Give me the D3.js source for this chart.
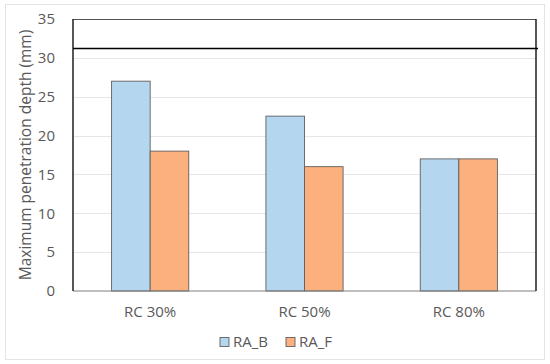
<!DOCTYPE html>
<html>
<head>
<meta charset="utf-8">
<script src="https://cdn.jsdelivr.net/npm/d3@7"></script>
<style>
  body { margin: 0; background: #fff; }
  text { font-family: "Open Sans", "Noto Sans", sans-serif; fill: #595959; }
</style>
</head>
<body>
<svg id="chart" width="550" height="364"></svg>
<script>
// chart data
var categories = ["RC 30%", "RC 50%", "RC 80%"];
var seriesNames = ["RA_B", "RA_F"];
var raB = [27, 22.5, 17];
var raF = [18, 16, 17];
var yTicks = [0, 5, 10, 15, 20, 25, 30, 35];
var limitValue = 31.2;

var colors = ["#b4d6ee", "#fcb07e"];

var svg = d3.select("#chart");
const width = +svg.attr("width"), height = +svg.attr("height");
const margin = {top: 19, right: 14, bottom: 73, left: 73};
const plotW = width - margin.left - margin.right,
      plotH = height - margin.top - margin.bottom;

// outer chart frame
svg.append("rect")
    .attr("x", 5.5).attr("y", 4.5)
    .attr("width", 539).attr("height", 355)
    .attr("fill", "#fff")
    .attr("stroke", "#e3e3e3");

var g = svg.append("g").attr("transform", "translate(" + margin.left + "," + margin.top + ")");

var x0 = d3.scaleBand().domain(categories).range([0, plotW]);
// bars take half of each category, gap on both sides
var x1 = d3.scaleBand().domain(seriesNames).range([0, x0.bandwidth()]).paddingOuter(1).paddingInner(0);
var y = d3.scaleLinear().domain([0, 35]).range([plotH, 0]);

// gridlines
g.append("g").selectAll("line")
    .data(yTicks.filter(function(d) { return d > 0 && d < 35; }))
    .enter().append("line")
    .attr("x1", 0).attr("x2", plotW)
    .attr("y1", function(d) { return Math.round(y(d)) + 0.5; })
    .attr("y2", function(d) { return Math.round(y(d)) + 0.5; })
    .attr("stroke", "#e6e6e6").attr("stroke-width", 1);

// bars
var rows = categories.map(function(c, i) {
    return {cat: c, vals: [{s: seriesNames[0], v: raB[i]}, {s: seriesNames[1], v: raF[i]}]};
});

g.append("g").selectAll("g")
    .data(rows)
    .enter().append("g")
    .attr("transform", function(d) { return "translate(" + x0(d.cat) + ",0)"; })
    .selectAll("rect")
    .data(function(d) { return d.vals; })
    .enter().append("rect")
    .attr("x", function(d) { return x1(d.s); })
    .attr("y", function(d) { return y(d.v); })
    .attr("width", x1.bandwidth())
    .attr("height", function(d) { return plotH - y(d.v); })
    .attr("fill", function(d, i) { return colors[i]; })
    .attr("stroke", "#5f5f5f").attr("stroke-width", 0.9);

// plot frame: top, bottom, left, right
g.append("line").attr("x1", 0).attr("x2", plotW).attr("y1", 0.5).attr("y2", 0.5)
    .attr("stroke", "#555").attr("stroke-width", 1.2);
g.append("line").attr("x1", 0).attr("x2", plotW).attr("y1", plotH).attr("y2", plotH)
    .attr("stroke", "#7f7f7f").attr("stroke-width", 1);
g.append("line").attr("x1", 0).attr("x2", 0).attr("y1", 0).attr("y2", plotH)
    .attr("stroke", "#111").attr("stroke-width", 1.4);
g.append("line").attr("x1", plotW).attr("x2", plotW).attr("y1", 0).attr("y2", plotH)
    .attr("stroke", "#111").attr("stroke-width", 1.4);

// limit line
g.append("line")
    .attr("x1", 0).attr("x2", plotW + 2)
    .attr("y1", y(limitValue)).attr("y2", y(limitValue))
    .attr("stroke", "#000").attr("stroke-width", 1.6);

// y axis labels
var yAxis = d3.axisLeft(y).tickValues(yTicks).tickSize(0).tickPadding(18);
var ya = g.append("g").call(yAxis);
ya.select(".domain").remove();
ya.selectAll("text").style("font-size", "15px").attr("fill", "#595959").style("font-family", null);

// x axis labels
var xAxis = d3.axisBottom(x0).tickSize(0).tickPadding(15);
var xa = g.append("g").attr("transform", "translate(0," + plotH + ")").call(xAxis);
xa.select(".domain").remove();
xa.selectAll("text").style("font-size", "15px").attr("fill", "#595959").style("font-family", null);

// y title
svg.append("text")
    .attr("transform", "translate(26," + (margin.top + plotH / 2) + ") rotate(-90)")
    .attr("text-anchor", "middle")
    .attr("dy", "0.35em")
    .style("font-size", "15.5px")
    .text("Maximum penetration depth (mm)");

// legend
var legendX = [220, 286];
var legend = svg.append("g").selectAll("g")
    .data(seriesNames)
    .enter().append("g")
    .attr("transform", function(d, i) { return "translate(" + legendX[i] + ",337.5)"; });
legend.append("rect")
    .attr("width", 9).attr("height", 9)
    .attr("fill", function(d, i) { return colors[i]; })
    .attr("stroke", "#5f5f5f").attr("stroke-width", 0.9);
legend.append("text")
    .attr("x", 13).attr("y", 4.5).attr("dy", "0.35em")
    .style("font-size", "15px")
    .text(function(d) { return d; });
</script>
</body>
</html>
